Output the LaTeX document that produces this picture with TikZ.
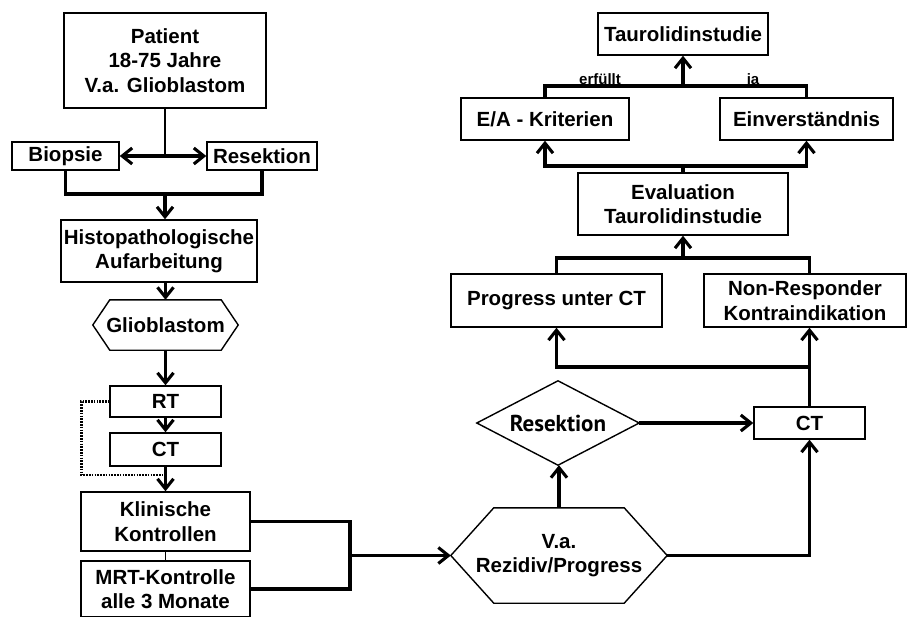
\documentclass[tikz,border=0pt]{standalone}
\usepackage{fontspec}
\setmainfont{Liberation Sans}
\newfontfamily\resfont{PT Sans}
\usetikzlibrary{arrows.meta}
\tikzset{
  txt/.style={inner sep=0pt, align=center, font=\fontsize{20.5}{24.5}\selectfont\bfseries},
  box/.style={txt, draw, line width=1.4pt},
  lbl/.style={inner sep=0pt, font=\fontsize{15}{18}\selectfont\bfseries},
  con/.style={draw=black, line width=3.1pt},
  thinline/.style={line width=1.4pt},
  dotline/.style={line width=2.4pt, dash pattern=on 1.6pt off 1.2pt},
  arr/.style={draw=black, line width=3.1pt, arrows={-Straight Barb[length=10pt,width=16pt]}},
  shapeline/.style={line width=1.4pt, line join=miter}
}
\begin{document}
\begin{tikzpicture}[x=1pt,y=-1pt]
\useasboundingbox (0,0) rectangle (907,616);

% left column
\node[box, minimum width=202pt, minimum height=95pt] (patient) at (165,60.5) {Patient\\18-75 Jahre\\V.a. Glioblastom};
\node[box, minimum width=107pt, minimum height=28pt] (biopsie) at (65.5,156) {Biopsie};
\node[box, minimum width=110pt, minimum height=28pt] (resek) at (262,156) {Resektion};
\node[box, minimum width=196pt, minimum height=62pt] (histo) at (159,251) {Histopathologische\\Aufarbeitung};
\node[txt, minimum width=145pt, minimum height=50pt] (glio) at (165.5,325) {Glioblastom};
\draw[shapeline] (glio.west) -- ([xshift=17pt]glio.north west) -- ([xshift=-17pt]glio.north east) -- (glio.east) -- ([xshift=-17pt]glio.south east) -- ([xshift=17pt]glio.south west) -- cycle;
\node[box, minimum width=111pt, minimum height=31pt] (rt) at (165.5,401.5) {RT};
\node[box, minimum width=111pt, minimum height=33pt] (ct) at (165.5,449.5) {CT};
\node[box, minimum width=169pt, minimum height=59pt] (klin) at (165.5,521.5) {Klinische\\Kontrollen};
\node[box, minimum width=169pt, minimum height=56pt] (mrt) at (165.5,589) {MRT-Kontrolle\\alle 3 Monate};

% right part
\node[txt, minimum width=216pt, minimum height=95pt] (va) at (559,555.5) {V.a.\\Rezidiv/Progress};
\draw[shapeline] (va.west) -- ([xshift=43pt]va.north west) -- ([xshift=-43pt]va.north east) -- (va.east) -- ([xshift=-43pt]va.south east) -- ([xshift=43pt]va.south west) -- cycle;
\node[inner sep=0pt, minimum width=162pt, minimum height=84pt, font=\fontsize{23}{26}\selectfont\resfont\bfseries] (dia) at (558,423) {Resektion};
\draw[shapeline] (dia.west) -- (dia.north) -- (dia.east) -- (dia.south) -- cycle;
\node[box, minimum width=111pt, minimum height=32pt] (ct2) at (809.5,423) {CT};
\node[box, minimum width=211pt, minimum height=53pt] (progress) at (556.5,300.5) {Progress unter CT};
\node[box, minimum width=202pt, minimum height=53pt] (nonresp) at (805,300.5) {Non-Responder\\Kontraindikation};
\node[box, minimum width=210pt, minimum height=62pt] (eval) at (683,204) {Evaluation\\Taurolidinstudie};
\node[box, minimum width=168pt, minimum height=42pt] (ea) at (545,119) {E/A - Kriterien};
\node[box, minimum width=173pt, minimum height=42pt] (einv) at (806.5,119) {Einverständnis};
\node[box, minimum width=170pt, minimum height=42pt] (tauro) at (683,34) {Taurolidinstudie};
\node[lbl, anchor=base] (erf) at (600,84) {erfüllt};
\node[lbl, anchor=base] (ja) at (753,84) {ja};

% connectors left
\coordinate (split) at (165,156);
\draw[thinline] (patient.south) -- (split);
\draw[arr] (split) -- (biopsie.east);
\draw[arr] (split) -- (resek.west);
\coordinate (j1) at (165,194);
\draw[con] (biopsie.south) |- (j1) -| (resek.south);
\draw[arr] (j1) -- (j1 |- histo.north);
\draw[arr] (histo.south -| glio.north) -- (glio.north);
\draw[arr] (glio.south) -- (rt.north);
\draw[arr] (rt.south) -- (ct.north);
\draw[arr] (ct.south) -- (klin.north);
\coordinate (dotend) at (165.5,475);
\draw[dotline] (rt.west) -- ++(-28,0) |- (dotend);
\draw[thinline] (klin.south) -- (mrt.north);
\coordinate (j2) at (350,555.5);
\draw[con] (klin.east) -- (klin.east -| j2) -- (mrt.east -| j2) -- (mrt.east);
\draw[arr] (j2) -- (va.west);

% connectors right
\draw[arr] (va.north) -- (va.north |- dia.south);
\draw[arr] (dia.east) -- (ct2.west);
\draw[arr] (va.east) -| (ct2.south);
\coordinate (j3) at (809.5,367);
\draw[con] (ct2.north) -- (j3);
\draw[arr] (j3) -- (j3 |- nonresp.south);
\draw[arr] (j3) -| (progress.south);
\coordinate (j4) at (683,258);
\draw[con] (progress.north) |- (j4) -| (nonresp.north -| j3);
\draw[arr] (j4) -- (eval.south);
\coordinate (j5) at (683,166);
\draw[con] (eval.north) -- (j5);
\draw[arr] (j5) -| (ea.south);
\draw[arr] (j5) -| (einv.south);
\coordinate (j6) at (683,86);
\draw[con] (ea.north) |- (j6) -| (einv.north);
\draw[arr] (j6) -- (tauro.south);
\end{tikzpicture}
\end{document}
